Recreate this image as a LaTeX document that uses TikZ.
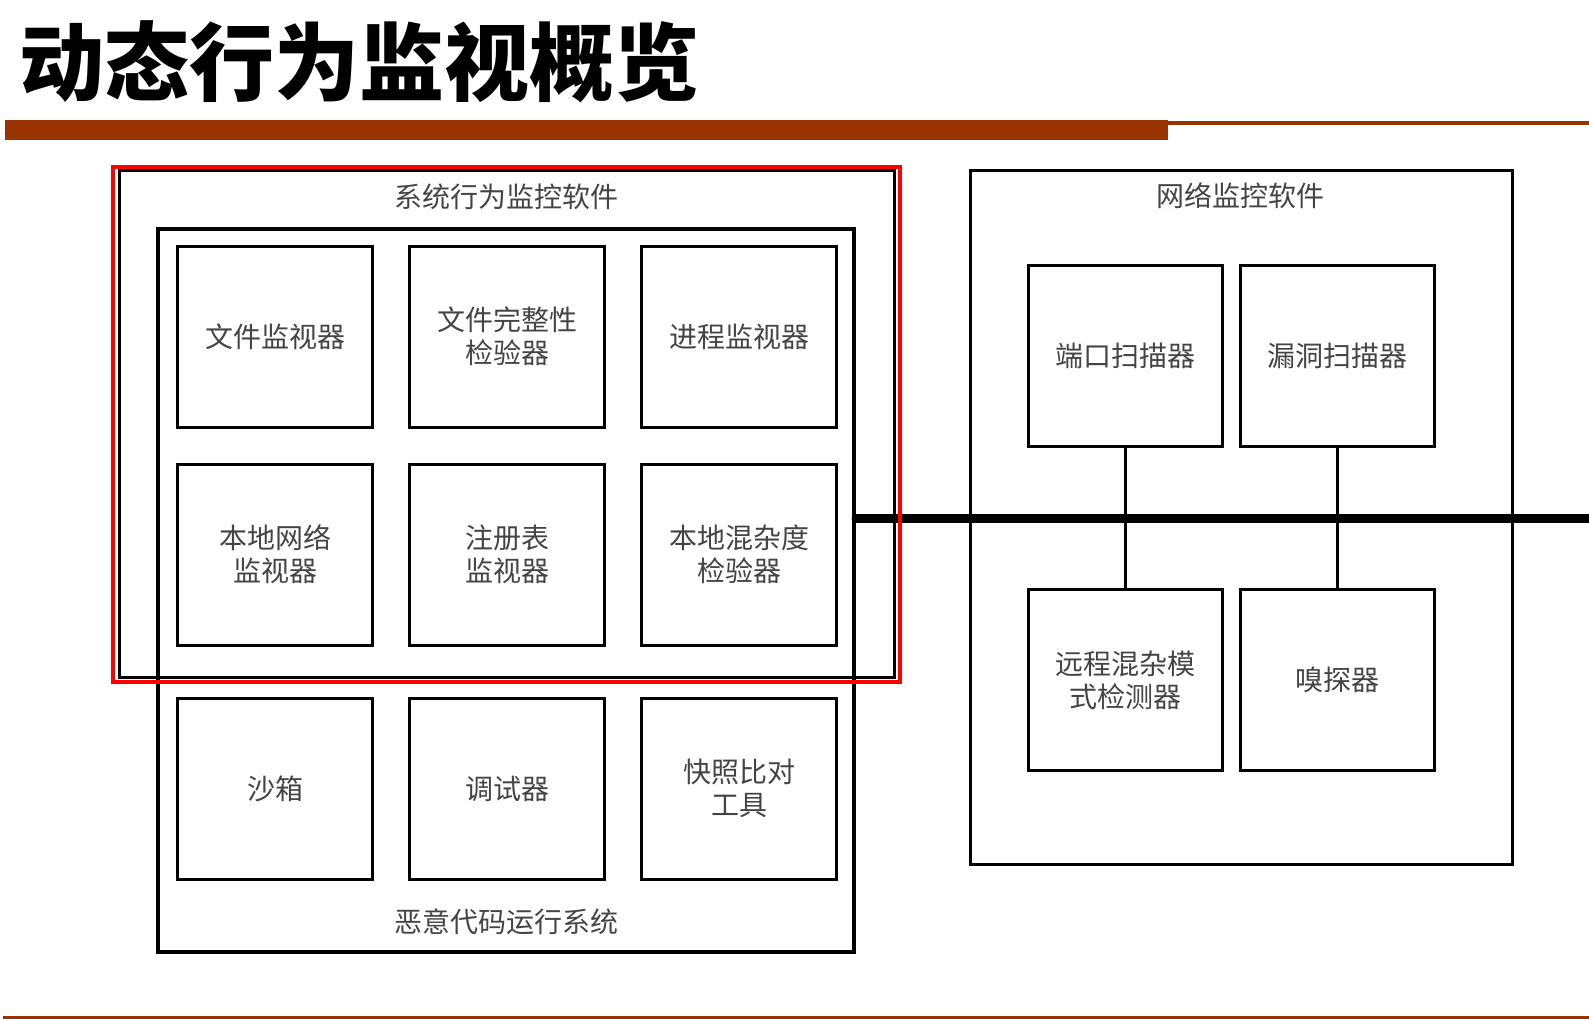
\documentclass[tikz,border=0pt]{standalone}
\usepackage{fontspec}
\usepackage{xcolor}
\usetikzlibrary{positioning}
\newfontfamily\cjk{Noto Sans CJK SC}
\definecolor{rust}{HTML}{993300}
\definecolor{hilite}{HTML}{FF0000}
\definecolor{ink}{HTML}{444444}

\begin{document}
\begin{tikzpicture}[
  x=1pt,y=-1pt,
  node distance=34pt and 34pt,
  frame/.style={draw,line width=3pt,inner sep=0pt},
  unit/.style={draw,line width=3pt,minimum width=195pt,minimum height=181pt,
               align=center,inner sep=0pt,text=ink,
               font=\cjk\fontsize{28}{33}\selectfont},
  netunit/.style={unit,minimum width=194pt},
  caption/.style={text=ink,inner sep=0pt,font=\cjk\fontsize{28}{33}\selectfont},
  link/.style={line width=3pt},
  bus/.style={line width=9pt,line cap=round}]

  \useasboundingbox (0,0) rectangle (1589,1019);

  % title and rules
  \node[anchor=west,inner sep=0pt,font=\cjk\bfseries\fontsize{85}{85}\selectfont]
       (title) at (19,62) {动态行为监视概览};
  \fill[rust] (5,120) rectangle (1168,140);
  \fill[rust] (1168,121) rectangle (1589,125);
  \fill[rust] (3,1015.5) rectangle (1589,1019);

  % frames
  \node[frame,minimum width=775pt,minimum height=506pt] (sysbox) at (506.5,424) {};
  \node[frame,line width=4pt,minimum width=696pt,minimum height=723pt] (malbox) at (506,590.5) {};
  \node[frame,minimum width=542pt,minimum height=693pt] (netbox) at (1241,517.5) {};
  \node[caption] (systitle) at (506,197) {系统行为监控软件};
  \node[caption] (maltitle) at (506,922) {恶意代码运行系统};
  \node[caption] (nettitle) at (1240,196) {网络监控软件};

  % host tools
  \node[unit] (filemon) at (275,336.5) {文件监视器};
  \node[unit,right=of filemon] (integ) {文件完整性\\检验器};
  \node[unit,right=of integ] (procmon) {进程监视器};
  \node[unit,below=of filemon] (netmon) {本地网络\\监视器};
  \node[unit,right=of netmon] (regmon) {注册表\\监视器};
  \node[unit,right=of regmon] (promisc) {本地混杂度\\检验器};
  \node[unit,below=50pt of netmon] (sandbox) {沙箱};
  \node[unit,right=of sandbox] (debugger) {调试器};
  \node[unit,right=of debugger] (snapshot) {快照比对\\工具};

  % network tools
  \node[netunit] (portscan) at (1125.3,356) {端口扫描器};
  \node[netunit,right=15pt of portscan] (vulnscan) {漏洞扫描器};
  \node[netunit,below=140pt of portscan] (remote) {远程混杂模\\式检测器};
  \node[netunit,right=15pt of remote] (sniffer) {嗅探器};

  % network bus
  \coordinate (busend) at (1593,518);
  \draw[bus] (malbox.east |- busend) -- (busend);
  \draw[link] (portscan.south) -- (remote.north);
  \draw[link] (vulnscan.south) -- (sniffer.north);

  % highlight
  \draw[hilite,line width=4pt] (113,167) rectangle (900,682);
\end{tikzpicture}
\end{document}
